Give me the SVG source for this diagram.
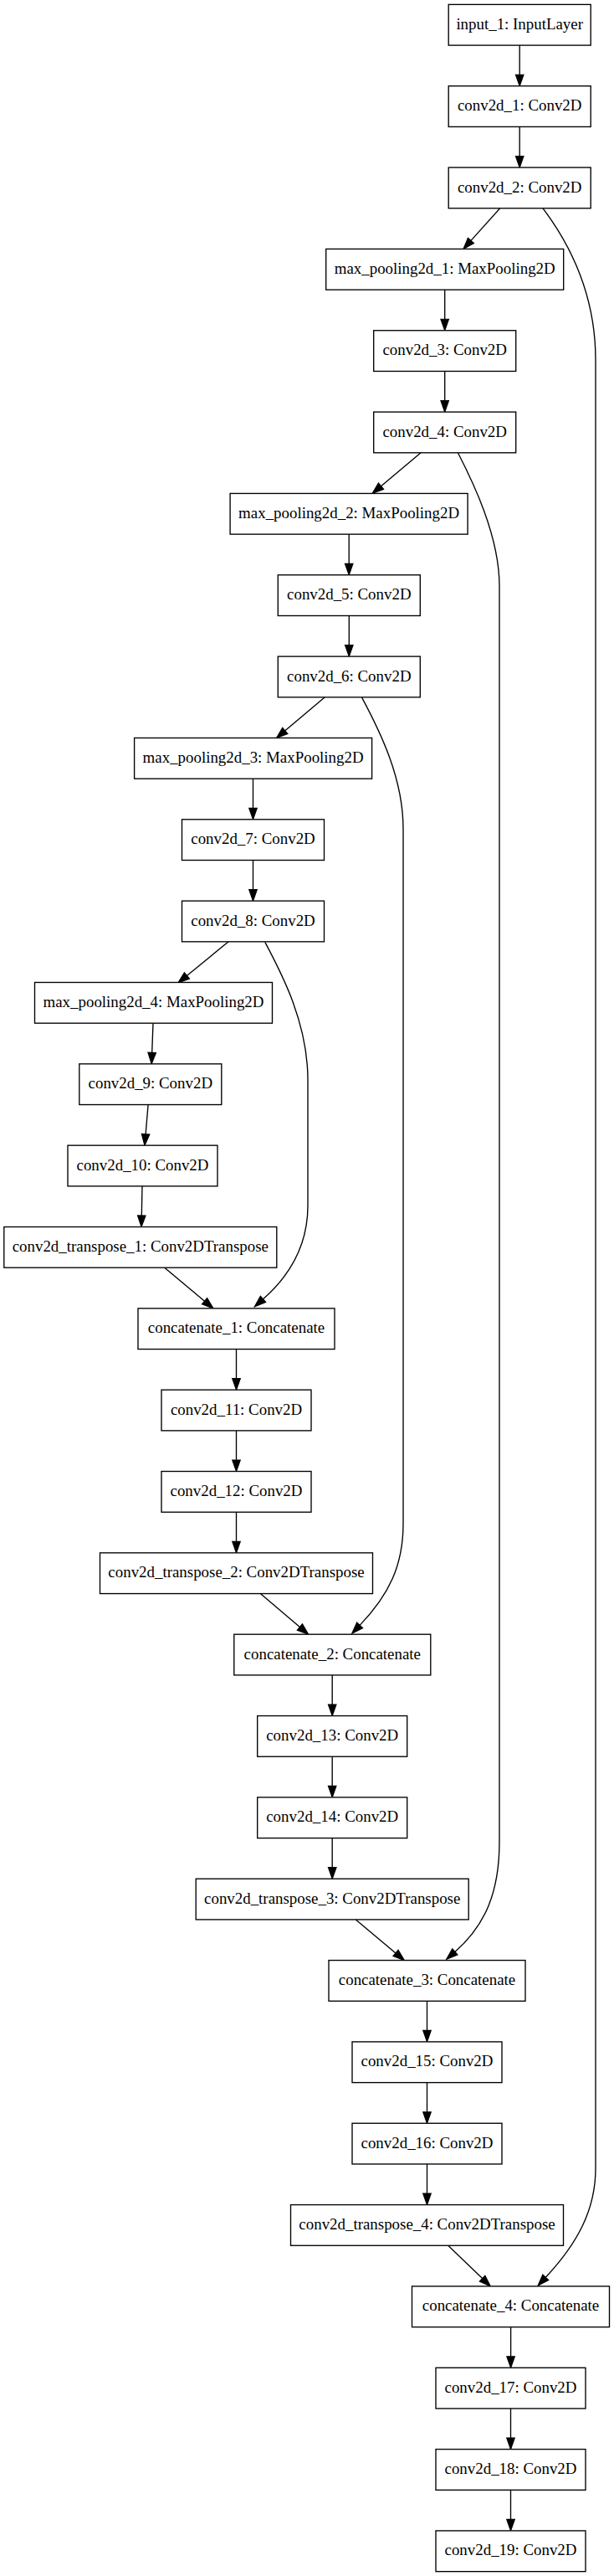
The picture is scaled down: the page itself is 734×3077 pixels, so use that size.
<svg xmlns="http://www.w3.org/2000/svg" width="734" height="3077" viewBox="0 0 734 3077">
<defs>
<style>
.node rect{fill:#fff;stroke:#000;stroke-width:1.35}
.node text{font-family:"Liberation Serif","Times New Roman",serif;font-size:18.9px;text-anchor:middle;fill:#000}
#edges path{fill:none;stroke:#000;stroke-width:1.35;marker-end:url(#arr)}
</style>
<marker id="arr" markerUnits="userSpaceOnUse" markerWidth="13.5" markerHeight="9.5" viewBox="0 0 13.5 9.5" refX="0" refY="4.75" orient="auto" overflow="visible">
<path d="M0,0 L13.5,4.75 L0,9.5 z" fill="#000" stroke="#000" stroke-width="1.2"/>
</marker>
</defs>
<rect width="734" height="3077" fill="#fff"/>
<g id="edges">
<path d="M621.2,54.1 L621.2,89.24"/>
<path d="M621.2,151.44 L621.2,186.58"/>
<path d="M597.7,248.78 L563,287.4"/>
<path d="M531.7,346.12 L531.7,381.26"/>
<path d="M531.7,443.46 L531.7,478.6"/>
<path d="M503.1,540.8 L455.5,580.7"/>
<path d="M417.2,638.14 L417.2,673.28"/>
<path d="M417.3,735.48 L417.3,770.62"/>
<path d="M388.3,832.82 L340.8,872.8"/>
<path d="M302.5,930.16 L302.5,965.3"/>
<path d="M302.5,1027.5 L302.5,1062.64"/>
<path d="M273.2,1124.84 L223.4,1165.4"/>
<path d="M183,1222.18 L181.7,1257.3"/>
<path d="M177.1,1319.52 L174.1,1354.7"/>
<path d="M170,1416.86 L169.3,1452"/>
<path d="M196.7,1514.2 L244.6,1554.2"/>
<path d="M282.5,1611.54 L282.5,1646.68"/>
<path d="M282.5,1708.88 L282.5,1744.02"/>
<path d="M282.5,1806.22 L282.5,1841.36"/>
<path d="M311.3,1903.56 L358.4,1943.5"/>
<path d="M397.2,2000.9 L397.2,2036.04"/>
<path d="M397.2,2098.24 L397.2,2133.38"/>
<path d="M397.2,2195.58 L397.2,2230.72"/>
<path d="M425.3,2292.92 L473,2332.9"/>
<path d="M510.5,2390.26 L510.5,2425.4"/>
<path d="M510.5,2487.6 L510.5,2522.74"/>
<path d="M510.5,2584.94 L510.5,2620.08"/>
<path d="M535.7,2682.28 L576.6,2721.6"/>
<path d="M610.6,2779.62 L610.6,2814.76"/>
<path d="M610.5,2876.96 L610.5,2912.1"/>
<path d="M610.5,2974.3 L610.5,3009.44"/>
<path d="M649,248.8 C680,290 712,350 712,430 L712,2590 C712,2640 690,2680 652.3,2720.3"/>
<path d="M547.4,540.8 C565,575 597,640 597,700 L597,2200 C597,2260 580,2300 543.9,2331.4"/>
<path d="M432.6,833.1 C455,875 482,930 482,990 L482,1820 C482,1870 465,1905 430.1,1941.4"/>
<path d="M316.8,1125.4 C335,1160 368,1220 368,1290 L368,1440 C368,1490 345,1525 314.5,1551.8"/>
</g>
<g id="input_1" class="node"><rect x="536.2" y="5.4" width="170" height="48.7"/><text x="621.2" y="34.85">input_1: InputLayer</text></g>
<g id="conv2d_1" class="node"><rect x="536.2" y="102.74" width="170" height="48.7"/><text x="621.2" y="132.19">conv2d_1: Conv2D</text></g>
<g id="conv2d_2" class="node"><rect x="536.2" y="200.08" width="170" height="48.7"/><text x="621.2" y="229.53">conv2d_2: Conv2D</text></g>
<g id="max_pooling2d_1" class="node"><rect x="389.7" y="297.42" width="284" height="48.7"/><text x="531.7" y="326.87">max_pooling2d_1: MaxPooling2D</text></g>
<g id="conv2d_3" class="node"><rect x="446.7" y="394.76" width="170" height="48.7"/><text x="531.7" y="424.21">conv2d_3: Conv2D</text></g>
<g id="conv2d_4" class="node"><rect x="446.7" y="492.1" width="170" height="48.7"/><text x="531.7" y="521.55">conv2d_4: Conv2D</text></g>
<g id="max_pooling2d_2" class="node"><rect x="275.1" y="589.44" width="284" height="48.7"/><text x="417.1" y="618.89">max_pooling2d_2: MaxPooling2D</text></g>
<g id="conv2d_5" class="node"><rect x="332.3" y="686.78" width="170" height="48.7"/><text x="417.3" y="716.23">conv2d_5: Conv2D</text></g>
<g id="conv2d_6" class="node"><rect x="332.3" y="784.12" width="170" height="48.7"/><text x="417.3" y="813.57">conv2d_6: Conv2D</text></g>
<g id="max_pooling2d_3" class="node"><rect x="160.6" y="881.46" width="284" height="48.7"/><text x="302.6" y="910.91">max_pooling2d_3: MaxPooling2D</text></g>
<g id="conv2d_7" class="node"><rect x="217.5" y="978.8" width="170" height="48.7"/><text x="302.5" y="1008.25">conv2d_7: Conv2D</text></g>
<g id="conv2d_8" class="node"><rect x="217.5" y="1076.14" width="170" height="48.7"/><text x="302.5" y="1105.59">conv2d_8: Conv2D</text></g>
<g id="max_pooling2d_4" class="node"><rect x="41.5" y="1173.48" width="284" height="48.7"/><text x="183.5" y="1202.93">max_pooling2d_4: MaxPooling2D</text></g>
<g id="conv2d_9" class="node"><rect x="94.8" y="1270.82" width="170" height="48.7"/><text x="179.8" y="1300.27">conv2d_9: Conv2D</text></g>
<g id="conv2d_10" class="node"><rect x="81" y="1368.16" width="179" height="48.7"/><text x="170.5" y="1397.61">conv2d_10: Conv2D</text></g>
<g id="conv2d_transpose_1" class="node"><rect x="4.8" y="1465.5" width="326" height="48.7"/><text x="167.8" y="1494.95">conv2d_transpose_1: Conv2DTranspose</text></g>
<g id="concatenate_1" class="node"><rect x="165" y="1562.84" width="235" height="48.7"/><text x="282.5" y="1592.29">concatenate_1: Concatenate</text></g>
<g id="conv2d_11" class="node"><rect x="193" y="1660.18" width="179" height="48.7"/><text x="282.5" y="1689.63">conv2d_11: Conv2D</text></g>
<g id="conv2d_12" class="node"><rect x="193" y="1757.52" width="179" height="48.7"/><text x="282.5" y="1786.97">conv2d_12: Conv2D</text></g>
<g id="conv2d_transpose_2" class="node"><rect x="119.5" y="1854.86" width="326" height="48.7"/><text x="282.5" y="1884.31">conv2d_transpose_2: Conv2DTranspose</text></g>
<g id="concatenate_2" class="node"><rect x="279.8" y="1952.2" width="235" height="48.7"/><text x="397.3" y="1981.65">concatenate_2: Concatenate</text></g>
<g id="conv2d_13" class="node"><rect x="307.7" y="2049.54" width="179" height="48.7"/><text x="397.2" y="2078.99">conv2d_13: Conv2D</text></g>
<g id="conv2d_14" class="node"><rect x="307.7" y="2146.88" width="179" height="48.7"/><text x="397.2" y="2176.33">conv2d_14: Conv2D</text></g>
<g id="conv2d_transpose_3" class="node"><rect x="234.2" y="2244.22" width="326" height="48.7"/><text x="397.2" y="2273.67">conv2d_transpose_3: Conv2DTranspose</text></g>
<g id="concatenate_3" class="node"><rect x="393" y="2341.56" width="235" height="48.7"/><text x="510.5" y="2371.01">concatenate_3: Concatenate</text></g>
<g id="conv2d_15" class="node"><rect x="421" y="2438.9" width="179" height="48.7"/><text x="510.5" y="2468.35">conv2d_15: Conv2D</text></g>
<g id="conv2d_16" class="node"><rect x="421" y="2536.24" width="179" height="48.7"/><text x="510.5" y="2565.69">conv2d_16: Conv2D</text></g>
<g id="conv2d_transpose_4" class="node"><rect x="347.5" y="2633.58" width="326" height="48.7"/><text x="510.5" y="2663.03">conv2d_transpose_4: Conv2DTranspose</text></g>
<g id="concatenate_4" class="node"><rect x="492.5" y="2730.92" width="236" height="48.7"/><text x="610.5" y="2760.37">concatenate_4: Concatenate</text></g>
<g id="conv2d_17" class="node"><rect x="521" y="2828.26" width="179" height="48.7"/><text x="610.5" y="2857.71">conv2d_17: Conv2D</text></g>
<g id="conv2d_18" class="node"><rect x="521" y="2925.6" width="179" height="48.7"/><text x="610.5" y="2955.05">conv2d_18: Conv2D</text></g>
<g id="conv2d_19" class="node"><rect x="521" y="3022.94" width="179" height="48.7"/><text x="610.5" y="3052.39">conv2d_19: Conv2D</text></g>
</svg>
